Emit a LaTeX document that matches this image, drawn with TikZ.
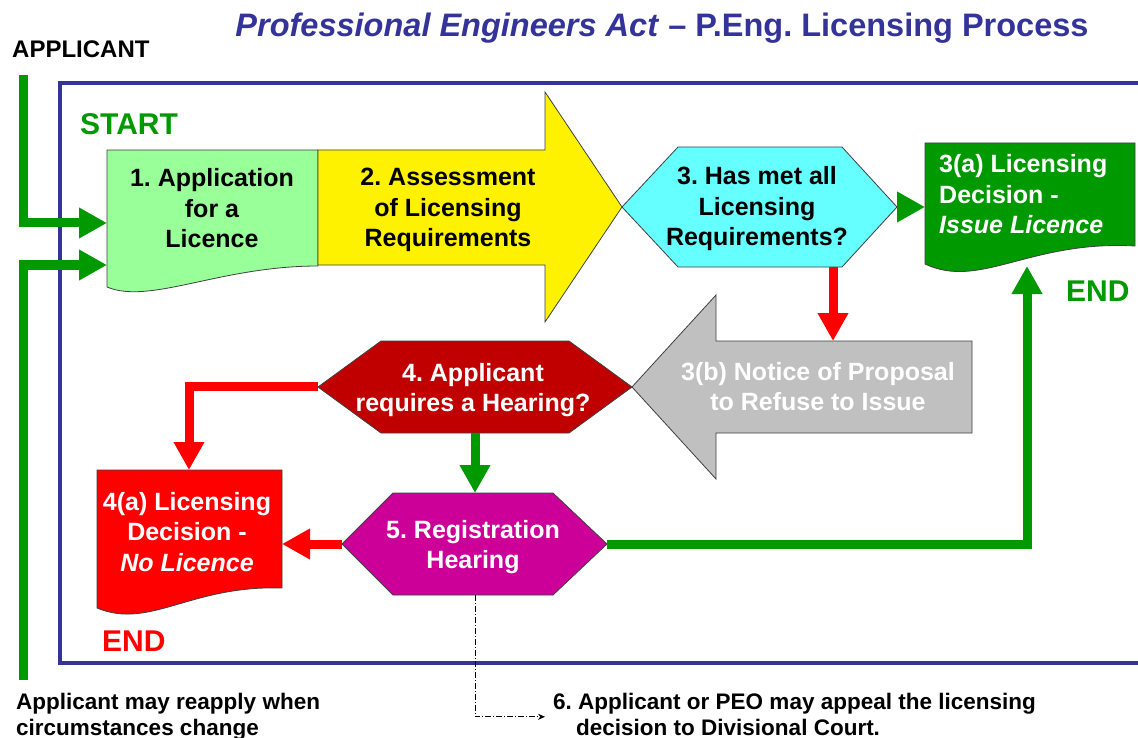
\documentclass[tikz,border=0pt]{standalone}
\usepackage{fontspec}
\setmainfont{Liberation Sans}
\usetikzlibrary{arrows.meta}
\definecolor{fblue}{HTML}{333399}
\definecolor{ggreen}{HTML}{009900}
\definecolor{lgreen}{HTML}{99FF99}
\definecolor{cyanf}{HTML}{66FFFF}
\definecolor{dred}{HTML}{C00000}
\definecolor{magf}{HTML}{CC0099}
\definecolor{grayf}{HTML}{C0C0C0}
\definecolor{outl}{HTML}{404040}
\newcommand\mlines[2][c]{\begin{tabular}[t]{@{}#1@{}}#2\end{tabular}}
\frenchspacing
\begin{document}
\frenchspacing
\begin{tikzpicture}[x=1pt,y=-1pt,
  shapebox/.style={draw=outl,line width=0.8pt},
  boxtext/.style={font=\fontsize{25}{30.5}\selectfont\bfseries,inner sep=0pt,anchor=base},
  lbl/.style={font=\fontsize{22.5}{26}\selectfont\bfseries,inner sep=0pt,anchor=base west},
  bigword/.style={font=\fontsize{30}{34}\selectfont\bfseries,inner sep=0pt,anchor=base west},
  gconn/.style={draw=ggreen,line width=9pt,-{Triangle[length=28pt,width=29pt]}},
  rconn/.style={draw=red,line width=9pt,-{Triangle[length=28pt,width=29pt]}},
  dconn/.style={draw=black,line width=0.8pt,dash pattern=on 6pt off 2pt on 1pt off 2pt,-{Stealth[length=7pt,width=6pt]}}
]
\useasboundingbox (0,0) rectangle (1138,738);
\fill[white] (0,0) rectangle (1138,738);

% frame
\draw[fblue,line width=4pt] (1145,83) -- (60,83) -- (60,663) -- (1145,663);

% title and labels
\node[font=\fontsize{32.5}{36}\selectfont\bfseries,text=fblue,anchor=base,inner sep=0pt] (title) at (662,37)
  {\textit{Professional Engineers Act} -- P.Eng. Licensing Process};
\node[lbl,font=\fontsize{24}{28}\selectfont\bfseries] (applicant) at (12,58) {APPLICANT};
\node[bigword,text=ggreen] (start) at (80,135) {START};
\node[bigword,text=ggreen] (endg) at (1066,301) {END};
\node[bigword,text=red] (endr) at (102,651) {END};

% shapes
\draw[shapebox,fill=lgreen] (107,150) -- (318,150) -- (318,266) .. controls (220,266) and (150,305) .. (107,287) -- cycle;
\draw[shapebox,fill=yellow] (318,150) -- (545,150) -- (545,92) -- (622,207) -- (545,322) -- (545,265) -- (318,265) -- cycle;
\draw[shapebox,fill=cyanf] (622,207) -- (678,147) -- (842,147) -- (897,207) -- (842,267) -- (678,267) -- cycle;
\draw[shapebox,fill=ggreen] (925,143) -- (1135,143) -- (1135,246) .. controls (1030,240) and (980,290) .. (925,264) -- cycle;
\draw[shapebox,fill=grayf] (972,341) -- (716,341) -- (716,295) -- (632,387) -- (716,479) -- (716,433) -- (972,433) -- cycle;
\draw[shapebox,fill=dred] (318,387) -- (381,341) -- (569,341) -- (632,387) -- (569,433) -- (381,433) -- cycle;
\draw[shapebox,fill=magf] (342,544) -- (393,493) -- (553,493) -- (607,544) -- (553,595) -- (393,595) -- cycle;
\draw[shapebox,fill=red] (97,470) -- (282,470) -- (282,588) .. controls (190,585) and (150,630) .. (97,608) -- cycle;

% texts in shapes
\node[boxtext] (n1) at (212,187) {\mlines{1. Application\\for a\\Licence}};
\node[boxtext] (n2) at (448,186) {\mlines{2. Assessment\\of Licensing\\Requirements}};
\node[boxtext] (n3) at (757,185) {\mlines{3. Has met all\\Licensing\\Requirements?}};
\node[boxtext,anchor=base west,text=white] (n3a) at (939,173) {\mlines[l]{3(a) Licensing\\Decision -\\\textit{Issue Licence}}};
\node[boxtext,text=white] (n3b) at (818,380) {\mlines{3(b) Notice of Proposal\\to Refuse to Issue}};
\node[boxtext,text=white] (n4) at (473,381) {\mlines{4. Applicant\\requires a Hearing?}};
\node[boxtext,text=white] (n5) at (473,538) {\mlines{5. Registration\\Hearing}};
\node[boxtext,text=white] (n4a) at (187,510) {\mlines{4(a) Licensing\\Decision -\\\textit{No Licence}}};

% bottom notes
\node[lbl] (reapply) at (16,709) {\mlines[l]{Applicant may reapply when\\circumstances change}};
\node[lbl] (appeal) at (553,709) {\mlines[l]{6. Applicant or PEO may appeal the licensing\\\hspace{23pt}decision to Divisional Court.}};

% connection points
\coordinate (appTop) at (23,75);
\coordinate (reBot) at (23,680);
\coordinate (b1W1) at (107,223);
\coordinate (b1W2) at (107,265);
\coordinate (h3E) at (897,207);
\coordinate (b3aW) at (925,207);
\coordinate (h3S) at (833,267);
\coordinate (b3bN) at (833,341);
\coordinate (h4W) at (318,386);
\coordinate (b4aN) at (189,470);
\coordinate (h4S) at (475,433);
\coordinate (h5N) at (475,493);
\coordinate (h5W) at (342,544);
\coordinate (b4aE) at (282,544);
\coordinate (h5E) at (607,544);
\coordinate (b3aS) at (1027,266);
\coordinate (h5S) at (475,595);

% connectors
\draw[gconn] (appTop) |- (b1W1);
\draw[gconn] (reBot) |- (b1W2);
\draw[gconn] (h3E) -- (b3aW);
\draw[rconn] (h3S) -- (b3bN);
\draw[rconn] (h4W) -| (b4aN);
\draw[gconn] (h4S) -- (h5N);
\draw[rconn] (h5W) -- (b4aE);
\draw[gconn] (h5E) -| (b3aS);
\draw[dconn,shorten >=8pt] (h5S) |- (appeal.west);
\end{tikzpicture}
\end{document}
